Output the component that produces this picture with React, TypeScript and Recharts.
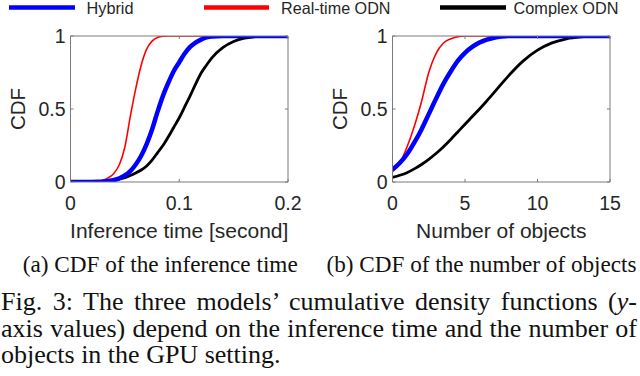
import React from 'react';
import { LineChart, Line, XAxis, YAxis } from 'recharts';

// ---------- data ----------
const LEFT_X = [0, 0.01, 0.02, 0.025, 0.03, 0.035, 0.04, 0.045, 0.05, 0.055, 0.06, 0.065, 0.07, 0.075, 0.08, 0.085, 0.09, 0.095, 0.1, 0.105, 0.11, 0.115, 0.12, 0.125, 0.13, 0.14, 0.15, 0.16, 0.17, 0.18, 0.19, 0.2];
const LEFT_HYBRID = [0, 0, 0, 0.001, 0.003, 0.007, 0.014, 0.026, 0.045, 0.075, 0.12, 0.18, 0.26, 0.36, 0.48, 0.59, 0.68, 0.76, 0.82, 0.88, 0.925, 0.955, 0.975, 0.99, 0.997, 1, 1, 1, 1, 1, 1, 1];
const LEFT_REALTIME = [0, 0, 0.001, 0.003, 0.012, 0.03, 0.06, 0.12, 0.24, 0.45, 0.64, 0.8, 0.91, 0.965, 0.99, 0.998, 1, 1, 1, 1, 1, 1, 1, 1, 1, 1, 1, 1, 1, 1, 1, 1];
const LEFT_COMPLEX = [0, 0, 0, 0.001, 0.003, 0.006, 0.012, 0.02, 0.03, 0.045, 0.062, 0.082, 0.11, 0.15, 0.2, 0.25, 0.31, 0.375, 0.44, 0.515, 0.59, 0.67, 0.745, 0.8, 0.85, 0.92, 0.962, 0.985, 0.995, 1, 1, 1];
const LEFT_X_TICKS = [0, 0.1, 0.2];

const RIGHT_X = [0, 0.5, 1, 1.5, 2, 2.5, 3, 3.5, 4, 4.5, 5, 5.5, 6, 6.5, 7, 7.5, 8, 9, 10, 11, 12, 13, 14, 15];
const RIGHT_HYBRID = [0.085, 0.13, 0.19, 0.27, 0.36, 0.465, 0.57, 0.67, 0.755, 0.83, 0.885, 0.925, 0.955, 0.975, 0.988, 0.996, 1, 1, 1, 1, 1, 1, 1, 1];
const RIGHT_REALTIME = [0.07, 0.13, 0.24, 0.38, 0.55, 0.75, 0.88, 0.95, 0.98, 0.995, 1, 1, 1, 1, 1, 1, 1, 1, 1, 1, 1, 1, 1, 1];
const RIGHT_COMPLEX = [0.032, 0.046, 0.064, 0.09, 0.12, 0.155, 0.195, 0.24, 0.29, 0.343, 0.396, 0.448, 0.5, 0.555, 0.612, 0.67, 0.727, 0.828, 0.903, 0.953, 0.981, 0.994, 0.999, 1];
const RIGHT_X_TICKS = [0, 5, 10, 15];

const Y_TICKS = [0, 0.5, 1];
const Y_LABEL = 'CDF';
const X_LABELS = ['Inference time [second]', 'Number of objects'];
const SERIES_NAMES = ['Hybrid', 'Real-time ODN', 'Complex ODN'];
const SUB_CAPTIONS = ['(a) CDF of the inference time', '(b) CDF of the number of objects'];
const FIG_LINE_1_PRE = 'Fig. 3: The three models\u2019 cumulative density functions (';
const FIG_LINE_1_VAR = 'y';
const FIG_LINE_1_POST = '-';
const FIG_LINE_2 = 'axis values) depend on the inference time and the number of';
const FIG_LINE_3 = 'objects in the GPU setting.';

// ---------- styles ----------
const SANS = '"Liberation Sans", Arimo, Arial, Helvetica, sans-serif';
const SERIF = '"Liberation Serif", "Times New Roman", Times, serif';
const FRAME = '#7a7a7a';
const TEXT = '#262626';
const COLORS = { hybrid: '#0000ff', realtime: '#ff0000', complex: '#000000' };
const WIDTHS = { hybrid: 4.5, realtime: 1.6, complex: 2.8 };
const TICK_STYLE = { fontSize: 19.5, fill: TEXT, fontFamily: SANS };

const buildRows = (xs: number[], h: number[], r: number[], c: number[]) =>
  xs.map((x, i) => ({ x, hybrid: h[i], realtime: r[i], complex: c[i] }));

const LEFT_DATA = buildRows(LEFT_X, LEFT_HYBRID, LEFT_REALTIME, LEFT_COMPLEX);
const RIGHT_DATA = buildRows(RIGHT_X, RIGHT_HYBRID, RIGHT_REALTIME, RIGHT_COMPLEX);

const XLabel = (props: any) => {
  const { viewBox, value } = props;
  if (!viewBox) return null;
  return (
    <text
      x={viewBox.x + viewBox.width / 2}
      y={viewBox.y + 55.5}
      textAnchor="middle"
      fontSize={21}
      fontFamily={SANS}
      fill={TEXT}
    >
      {value}
    </text>
  );
};

const YLabel = (props: any) => {
  const { viewBox, value } = props;
  if (!viewBox) return null;
  const cx = viewBox.x + 17.5;
  const cy = viewBox.y + viewBox.height / 2;
  return (
    <text
      x={cx}
      y={cy}
      transform={`rotate(-90 ${cx} ${cy})`}
      textAnchor="middle"
      dominantBaseline="central"
      fontSize={20.5}
      fontFamily={SANS}
      fill={TEXT}
    >
      {value}
    </text>
  );
};

const blank = () => '';

function Panel({ data, domain, ticks, xLabel }: { data: any[]; domain: [number, number]; ticks: number[]; xLabel: string }) {
  return (
    <LineChart width={320} height={250} data={data} margin={{ top: 36, right: 32, bottom: 0, left: 0 }}>
      <XAxis
        xAxisId="b"
        type="number"
        dataKey="x"
        domain={domain}
        ticks={ticks}
        allowDataOverflow
        interval={0}
        height={68}
        tickSize={0}
        tickLine={false}
        tickMargin={14.5}
        axisLine={{ stroke: FRAME, strokeWidth: 1 }}
        tick={TICK_STYLE}
        label={{ value: xLabel, content: XLabel }}
      />
      <XAxis
        xAxisId="bm"
        type="number"
        dataKey="x"
        domain={domain}
        ticks={ticks}
        allowDataOverflow
        interval={0}
        orientation="bottom"
        mirror
        axisLine={false}
        tickSize={3}
        tickLine={{ stroke: FRAME }}
        tickFormatter={blank}
      />
      <XAxis
        xAxisId="tm"
        type="number"
        dataKey="x"
        domain={domain}
        ticks={ticks}
        allowDataOverflow
        interval={0}
        orientation="top"
        mirror
        axisLine={{ stroke: FRAME, strokeWidth: 1 }}
        tickSize={3}
        tickLine={{ stroke: FRAME }}
        tickFormatter={blank}
      />
      <YAxis
        yAxisId="l"
        type="number"
        domain={[0, 1]}
        ticks={Y_TICKS}
        allowDataOverflow
        interval={0}
        width={70.5}
        tickSize={0}
        tickLine={false}
        tickMargin={5}
        axisLine={{ stroke: FRAME, strokeWidth: 1 }}
        tick={TICK_STYLE}
        label={{ value: Y_LABEL, content: YLabel }}
      />
      <YAxis
        yAxisId="lm"
        type="number"
        domain={[0, 1]}
        ticks={Y_TICKS}
        allowDataOverflow
        interval={0}
        orientation="left"
        mirror
        axisLine={false}
        tickSize={3}
        tickLine={{ stroke: FRAME }}
        tickFormatter={blank}
      />
      <YAxis
        yAxisId="rm"
        type="number"
        domain={[0, 1]}
        ticks={Y_TICKS}
        allowDataOverflow
        interval={0}
        orientation="right"
        mirror
        axisLine={{ stroke: FRAME, strokeWidth: 1 }}
        tickSize={3}
        tickLine={{ stroke: FRAME }}
        tickFormatter={blank}
      />
      <Line xAxisId="b" yAxisId="l" type="monotone" dataKey="complex" stroke={COLORS.complex} strokeWidth={WIDTHS.complex} dot={false} activeDot={false} isAnimationActive={false} />
      <Line xAxisId="b" yAxisId="l" type="monotone" dataKey="realtime" stroke={COLORS.realtime} strokeWidth={WIDTHS.realtime} dot={false} activeDot={false} isAnimationActive={false} />
      <Line xAxisId="b" yAxisId="l" type="monotone" dataKey="hybrid" stroke={COLORS.hybrid} strokeWidth={WIDTHS.hybrid} dot={false} activeDot={false} isAnimationActive={false} />
    </LineChart>
  );
}

const LEGEND_ITEMS = [
  { name: SERIES_NAMES[0], color: COLORS.hybrid, x1: 9, x2: 75, tx: 86.5 },
  { name: SERIES_NAMES[1], color: COLORS.realtime, x1: 204, x2: 269, tx: 281 },
  { name: SERIES_NAMES[2], color: COLORS.complex, x1: 440, x2: 506, tx: 513.5 },
];

export default function App() {
  return (
    <div style={{ position: 'absolute', left: 0, top: 0, width: 640, height: 376, background: '#fff', overflow: 'hidden' }}>
      <div style={{ position: 'absolute', left: 0, top: 0 }}>
        <Panel data={LEFT_DATA} domain={[0, 0.2]} ticks={LEFT_X_TICKS} xLabel={X_LABELS[0]} />
      </div>
      <div style={{ position: 'absolute', left: 322, top: 0 }}>
        <Panel data={RIGHT_DATA} domain={[0, 15]} ticks={RIGHT_X_TICKS} xLabel={X_LABELS[1]} />
      </div>
      <svg width={640} height={24} style={{ position: 'absolute', left: 0, top: 0 }}>
        {LEGEND_ITEMS.map((it) => (
          <g key={it.name}>
            <line x1={it.x1} x2={it.x2} y1={7.5} y2={7.5} stroke={it.color} strokeWidth={4.5} />
            <text x={it.tx} y={13.8} fontSize={16.5} fontFamily={SANS} fill={TEXT} textLength={it.name === 'Hybrid' ? 47 : it.name === 'Real-time ODN' ? 109.5 : 105} lengthAdjust="spacingAndGlyphs">
              {it.name}
            </text>
          </g>
        ))}
      </svg>
      <svg width={640} height={136} style={{ position: 'absolute', left: 0, top: 240 }}>
        <text x={22.7} y={32} fontSize={23} fontFamily={SERIF} fill="#111" textLength={275} lengthAdjust="spacingAndGlyphs">
          {SUB_CAPTIONS[0]}
        </text>
        <text x={326.5} y={32} fontSize={23} fontFamily={SERIF} fill="#111" textLength={310} lengthAdjust="spacingAndGlyphs">
          {SUB_CAPTIONS[1]}
        </text>
      </svg>
      <div style={{ position: 'absolute', left: 1, top: 289, width: 636, fontFamily: SERIF, fontSize: 26, lineHeight: '26.5px', color: '#111' }}>
        <div style={{ textAlign: 'justify', textAlignLast: 'justify', whiteSpace: 'nowrap' as const }}>
          {FIG_LINE_1_PRE}
          <i>{FIG_LINE_1_VAR}</i>
          {FIG_LINE_1_POST}
        </div>
        <div style={{ textAlign: 'justify', textAlignLast: 'justify' }}>{FIG_LINE_2}</div>
        <div>{FIG_LINE_3}</div>
      </div>
    </div>
  );
}
